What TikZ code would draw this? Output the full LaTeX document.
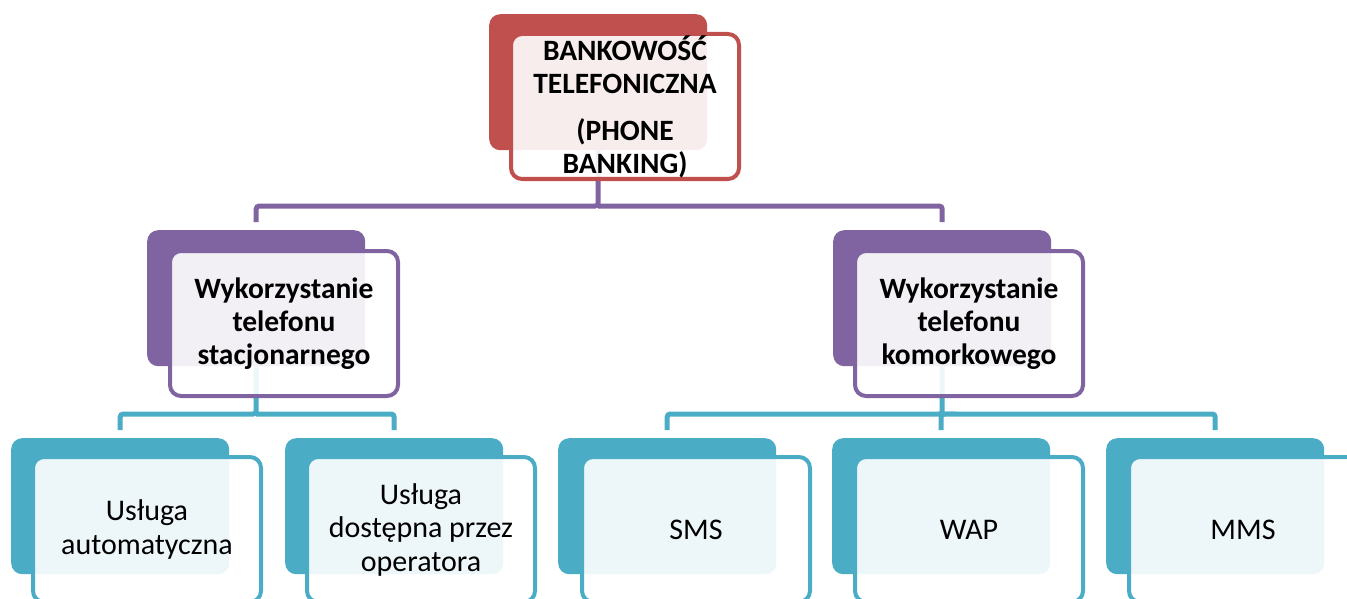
\documentclass[tikz,border=0pt]{standalone}
\usepackage{fontspec}
\setmainfont{Carlito}
\usetikzlibrary{calc}
\definecolor{accRed}{HTML}{C0504D}
\definecolor{accPurple}{HTML}{8064A2}
\definecolor{accTeal}{HTML}{4BACC6}
\tikzset{
  backbox/.style={fill=#1, draw=none, rounded corners=11pt,
    minimum width=218pt, minimum height=136pt, anchor=north west, inner sep=0pt},
  frontbox/.style={draw=#1, line width=4pt, fill=white, fill opacity=0.9, text opacity=1,
    rounded corners=11pt, minimum width=228pt, minimum height=145pt,
    anchor=north west, inner sep=0pt, align=center},
  conn/.style={draw=#1, line width=5pt, rounded corners=3pt},
  headtext/.style={font=\fontsize{29.5}{33}\selectfont\bfseries},
  leaftext/.style={font=\fontsize{30}{33.5}\selectfont},
}
\begin{document}
\begin{tikzpicture}[x=1pt,y=-1pt]
\useasboundingbox (0,0) rectangle (1347,599);

% back panels
\node[backbox=accRed]    (topB)  at (489,14) {};
\node[backbox=accPurple] (fixB)  at (147,230) {};
\node[backbox=accPurple] (mobB)  at (833,230) {};
\node[backbox=accTeal]   (autoB) at (11,438) {};
\node[backbox=accTeal]   (operB) at (285,438) {};
\node[backbox=accTeal]   (smsB)  at (558,438) {};
\node[backbox=accTeal]   (wapB)  at (832,438) {};
\node[backbox=accTeal]   (mmsB)  at (1106,438) {};

% connectors
\draw[conn=accPurple] (topB.south) -- (topB.south |- 0,206) -| ([yshift=8pt]fixB.north);
\draw[conn=accPurple] (topB.south |- 0,206) -| ([yshift=8pt]mobB.north);
\draw[conn=accTeal] (fixB.south) -- (fixB.south |- 0,414) -| ([yshift=8pt]autoB.north);
\draw[conn=accTeal] (fixB.south |- 0,414) -| ([yshift=8pt]operB.north);
\draw[conn=accTeal] (mobB.south) -- (mobB.south |- 0,414) -| ([yshift=8pt]smsB.north);
\draw[conn=accTeal] (mobB.south |- 0,414) -| ([yshift=8pt]wapB.north);
\draw[conn=accTeal] (mobB.south |- 0,414) -| ([yshift=8pt]mmsB.north);

% front panels with the labels
\node[frontbox=accRed, headtext] (top) at (509,32)
  {BANKOWOŚĆ\\TELEFONICZNA\\[14pt](PHONE\\BANKING)};
\node[frontbox=accPurple, headtext] (fix) at (168,249)
  {Wykorzystanie\\telefonu\\stacjonarnego};
\node[frontbox=accPurple, headtext] (mob) at (853,249)
  {Wykorzystanie\\telefonu\\komorkowego};
\node[frontbox=accTeal, leaftext] (auto) at (31,455) {Usługa\\automatyczna};
\node[frontbox=accTeal, leaftext] (oper) at (305,455) {Usługa\\dostępna przez\\operatora};
\node[frontbox=accTeal, leaftext] (sms)  at (580,455) {SMS};
\node[frontbox=accTeal, leaftext] (wap)  at (853,455) {WAP};
\node[frontbox=accTeal, leaftext] (mms)  at (1127,455) {MMS};
\end{tikzpicture}
\end{document}
